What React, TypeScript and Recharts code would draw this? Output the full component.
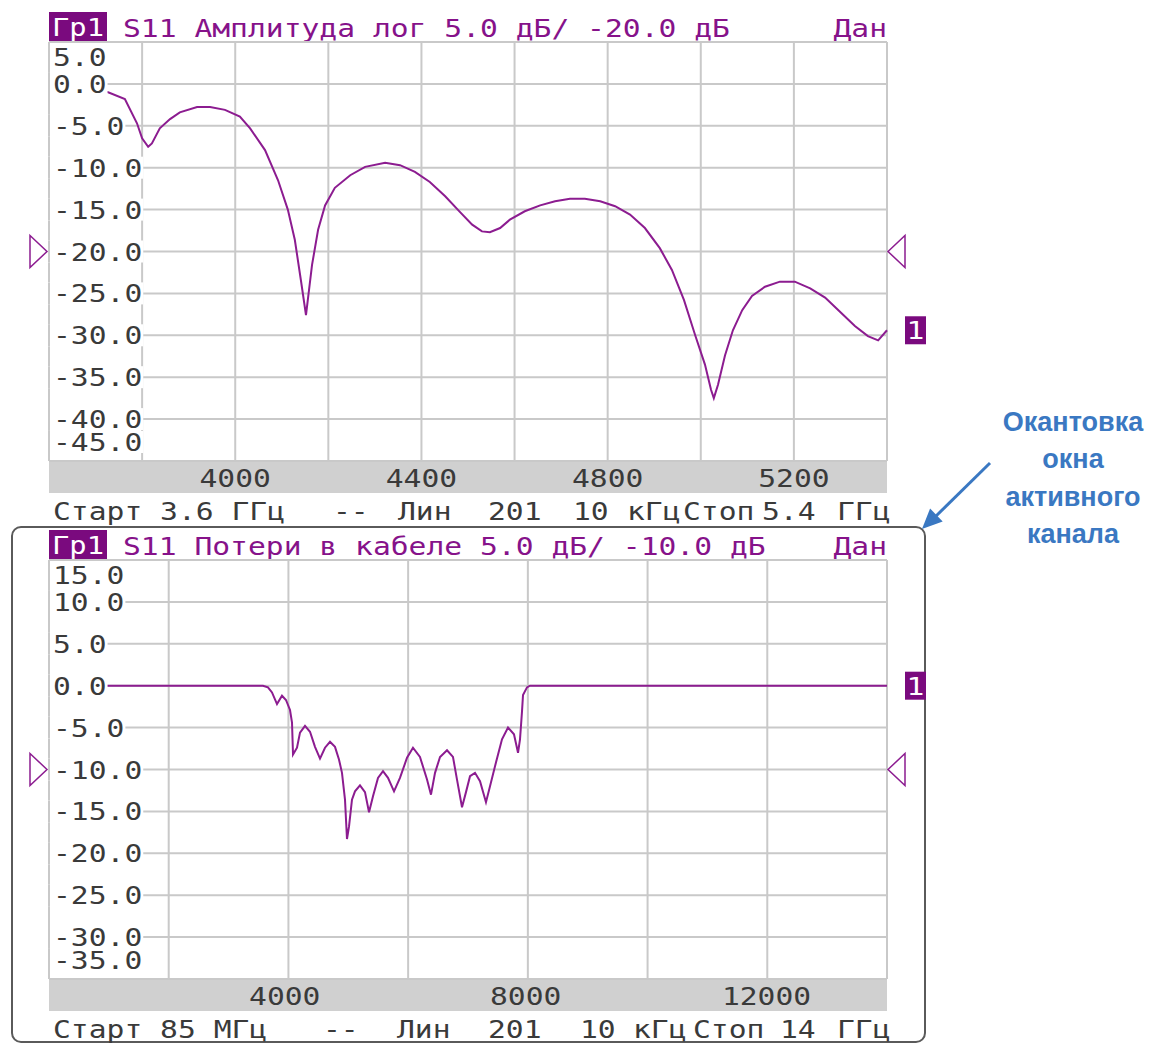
import { CartesianGrid, Line, LineChart, ReferenceDot, XAxis, YAxis } from 'recharts'

// Верхний график: S11 амплитуда, лог, 3.6–5.4 ГГц
const TOP_FREQ = [
  3600, 3650, 3700, 3727, 3763, 3789, 3800, 3813, 3821, 3838, 3860, 3881, 3918, 3946, 3978, 4010,
  4032, 4064, 4092, 4113, 4128, 4141, 4152, 4165, 4178, 4193, 4214, 4247, 4279, 4322, 4354, 4386,
  4418, 4451, 4483, 4509, 4530, 4547, 4569, 4590, 4622, 4655, 4687, 4719, 4751, 4784, 4816, 4848,
  4880, 4912, 4938, 4964, 4988, 5009, 5022, 5028, 5037, 5052, 5069, 5089, 5110, 5138, 5170, 5202,
  5235, 5267, 5299, 5331, 5359, 5381, 5400,
]
const TOP_S11 = [
  -0.2, -0.5, -0.8, -1.0, -1.8, -4.7, -6.5, -7.5, -7.1, -5.3, -4.2, -3.4, -2.75, -2.75, -3.1, -3.9,
  -5.3, -7.9, -11.5, -15.0, -18.6, -23.4, -27.6, -21.6, -17.4, -14.5, -12.4, -10.9, -9.9, -9.4, -9.7, -10.5,
  -11.7, -13.4, -15.3, -16.8, -17.6, -17.7, -17.2, -16.2, -15.2, -14.5, -14.0, -13.7, -13.7, -14.0, -14.6, -15.6,
  -17.2, -19.6, -22.2, -25.8, -30.0, -33.5, -36.5, -37.5, -35.9, -32.4, -29.4, -27.0, -25.3, -24.2, -23.6, -23.6,
  -24.4, -25.5, -27.2, -28.9, -30.1, -30.6, -29.4,
]
const TOP_Y_TICKS = [5, 0, -5, -10, -15, -20, -25, -30, -35, -40, -45]
const TOP_X_TICKS = [4000, 4400, 4800, 5200]

// Нижний график: потери в кабеле, 85 МГц – 14 ГГц
const BOT_FREQ = [
  85, 3638, 3721, 3788, 3871, 3954, 4020, 4087, 4120, 4137, 4203, 4253, 4336, 4419, 4502, 4585,
  4668, 4751, 4834, 4900, 4950, 5000, 5033, 5067, 5116, 5166, 5249, 5332, 5399, 5465, 5548, 5631,
  5714, 5814, 5913, 6030, 6129, 6245, 6362, 6428, 6495, 6578, 6694, 6793, 6860, 6943, 7009, 7076,
  7159, 7242, 7341, 7408, 7491, 7607, 7707, 7806, 7873, 7906, 7939, 7956, 8022, 8072, 14000,
]
const BOT_LOSS = [
  0, 0, -0.2, -0.8, -2.2, -1.2, -1.7, -2.9, -4.4, -8.2, -7.4, -5.6, -4.8, -5.5, -7.3, -8.7,
  -7.4, -6.7, -7.3, -8.8, -10.4, -13.6, -18.3, -16.8, -13.6, -12.6, -11.9, -12.7, -15.1, -13.2, -11.0, -10.2,
  -11.0, -12.6, -11.0, -8.6, -7.4, -8.5, -11.2, -13.0, -10.4, -8.5, -7.7, -8.5, -11.2, -14.5, -12.7, -10.8,
  -10.4, -11.4, -13.9, -12.0, -9.6, -6.4, -5.0, -5.8, -8.0, -6.4, -3.1, -1.1, -0.2, 0, 0,
]
const BOT_Y_TICKS = [15, 10, 5, 0, -5, -10, -15, -20, -25, -30, -35]
const BOT_X_TICKS = [4000, 8000, 12000]

const TOP_FOOTER: [string, number][] = [
  ['Старт 3.6 ГГц', 53], ['--', 333], ['Лин', 398], ['201', 488], ['10', 573],
  ['кГц', 627], ['Стоп', 683], ['5.4', 762], ['ГГц', 837],
]
const BOT_FOOTER: [string, number][] = [
  ['Старт 85 МГц', 53], ['--', 323], ['Лин', 397], ['201', 488], ['10', 580],
  ['кГц', 633], ['Стоп', 693], ['14', 780], ['ГГц', 837],
]

const PURPLE = '#86128a'
const BOX = '#7a0a7e'
const TRACE = '#8c1c90'
const INK = '#3a3a3a'
const GRID = '#c9c9c9'
const BLUE = '#3a78c2'
const MONO = '"DejaVu Sans Mono", monospace'
const FS = 25
const CH = 17.85

const L = 49
const PW = 838
const TOPM = 42
const PH = 419
const BAND = 32
const W = 935
const H = TOPM + PH + BAND

function Mono({ x, y, s, fill = INK, anchor = 'start' }: { x: number; y: number; s: string; fill?: string; anchor?: string }) {
  return (
    <text x={x} y={y} textAnchor={anchor} textLength={s.length * CH} lengthAdjust="spacingAndGlyphs"
      fontFamily={MONO} fontSize={FS} fill={fill}>{s}</text>
  )
}

// подписи шкалы рисуются внутри поля графика, на белой подложке
function YTick(p: any) {
  const v = p.payload.value
  const label = Number(v).toFixed(1)
  let cy = p.y
  if (v === p.hi) cy += 15
  if (v === p.lo) cy -= 19
  const w = label.length * CH
  return (
    <g>
      <rect x={L - 1} y={cy - 11} width={w + 6} height={22} fill="#fff" />
      <line x1={L} x2={L} y1={cy - 11} y2={cy + 11} stroke={GRID} strokeWidth={2} />
      <Mono x={L + 4} y={cy + 9} s={label} />
    </g>
  )
}

function XTick(p: any) {
  return <Mono x={p.x} y={p.y + 26} s={String(p.payload.value)} anchor="middle" />
}

type PanelProps = {
  top: number
  name: string
  refLevel: number
  perDiv: number
  start: number
  stop: number
  divs: number
  freq: number[]
  values: number[]
  yTicks: number[]
  xTicks: number[]
  footer: [string, number][]
  framed?: boolean
}

function Panel({ top, name, refLevel, perDiv, start, stop, divs, freq, values, yTicks, xTicks, footer, framed }: PanelProps) {
  const data = freq.map((f, i) => ({ f, v: values[i] }))
  const gridF = Array.from({ length: divs + 1 }, (_, i) => start + (i * (stop - start)) / divs)
  const hi = yTicks[0]
  const lo = yTicks[yTicks.length - 1]
  const title = `S11 ${name} ${perDiv.toFixed(1)} дБ/ ${refLevel.toFixed(1)} дБ`
  const last = data.length - 1

  const endDot = (p: any) => {
    if (p.index !== last) return <g key={`d${p.index}`} />
    return (
      <g key="end">
        <rect x={p.cx + 18} y={p.cy - 14} width={21} height={28} fill={BOX} />
        <Mono x={p.cx + 28.5} y={p.cy + 9} s="1" fill="#fff" anchor="middle" />
      </g>
    )
  }

  return (
    <div style={{ position: 'absolute', left: 0, top, width: 940, height: 530 }}>
      <svg width={940} height={530} style={{ position: 'absolute', left: 0, top: 0 }}>
        {framed && <rect x={12} y={9} width={913} height={515} rx={9} fill="none" stroke="#5a5a5a" strokeWidth={2} />}
        <rect x={L} y={12} width={58} height={30} fill={BOX} />
        <text x={52} y={36} textLength={52} lengthAdjust="spacingAndGlyphs" fontFamily={MONO} fontSize={FS} fill="#fff">Гр1</text>
        <Mono x={123} y={37} s={title} fill={PURPLE} />
        <Mono x={L + PW} y={37} s="Дан" fill={PURPLE} anchor="end" />
        {footer.map(([s, x]) => (
          <Mono key={s + x} x={x} y={520} s={s} />
        ))}
      </svg>
      <div style={{ position: 'absolute', left: L, top: TOPM + PH, width: PW, height: BAND, background: '#d0d0d0' }} />
      <div style={{ position: 'absolute', left: 0, top: 0 }}>
        <LineChart width={W} height={H} data={data} margin={{ top: TOPM, right: W - L - PW, bottom: 0, left: L - 1 }}>
          <CartesianGrid stroke={GRID} strokeWidth={2} verticalValues={gridF} horizontalValues={yTicks} />
          <XAxis dataKey="f" type="number" domain={[start, stop]} ticks={xTicks} height={BAND} interval={0}
            axisLine={false} tickLine={false} tickSize={0} tickMargin={0} tick={<XTick />} />
          <Line dataKey="v" type="linear" stroke={TRACE} strokeWidth={2} dot={endDot} activeDot={false}
            isAnimationActive={false} />
          <ReferenceDot x={start} y={refLevel} r={0} ifOverflow="visible"
            shape={(p: any) => (
              <polygon points={`${p.cx - 19},${p.cy - 16} ${p.cx - 2},${p.cy} ${p.cx - 19},${p.cy + 16}`}
                fill="#fff" stroke={TRACE} strokeWidth={1.5} />
            )} />
          <ReferenceDot x={stop} y={refLevel} r={0} ifOverflow="visible"
            shape={(p: any) => (
              <polygon points={`${p.cx + 1},${p.cy} ${p.cx + 18},${p.cy - 16} ${p.cx + 18},${p.cy + 16}`}
                fill="#fff" stroke={TRACE} strokeWidth={1.5} />
            )} />
          <YAxis type="number" domain={[lo, hi]} ticks={yTicks} width={1} interval={0}
            axisLine={false} tickLine={false} tick={<YTick hi={hi} lo={lo} />} />
        </LineChart>
      </div>
    </div>
  )
}

export default function App() {
  return (
    <div style={{ position: 'absolute', left: 0, top: 0, width: 1152, height: 1046, background: '#fff', overflow: 'hidden' }}>
      <Panel top={0} name="Амплитуда лог" refLevel={-20} perDiv={5} start={3600} stop={5400} divs={9}
        freq={TOP_FREQ} values={TOP_S11} yTicks={TOP_Y_TICKS} xTicks={TOP_X_TICKS} footer={TOP_FOOTER} />
      <Panel top={518} name="Потери в кабеле" refLevel={-10} perDiv={5} start={85} stop={14000} divs={7}
        freq={BOT_FREQ} values={BOT_LOSS} yTicks={BOT_Y_TICKS} xTicks={BOT_X_TICKS} footer={BOT_FOOTER} framed />
      <svg width={1152} height={1046} style={{ position: 'absolute', left: 0, top: 0, pointerEvents: 'none' }}>
        <line x1={990} y1={463} x2={934} y2={518} stroke={BLUE} strokeWidth={3} />
        <polygon points="922,529 942.7,521.6 930.1,508.6" fill={BLUE} />
      </svg>
      <div style={{
        position: 'absolute', left: 988, top: 404, width: 170, textAlign: 'center', color: BLUE,
        fontFamily: '"Liberation Sans", Arial, sans-serif', fontWeight: 700, fontSize: 27, lineHeight: '37.3px',
      }}>
        Окантовка<br />окна<br />активного<br />канала
      </div>
    </div>
  )
}
